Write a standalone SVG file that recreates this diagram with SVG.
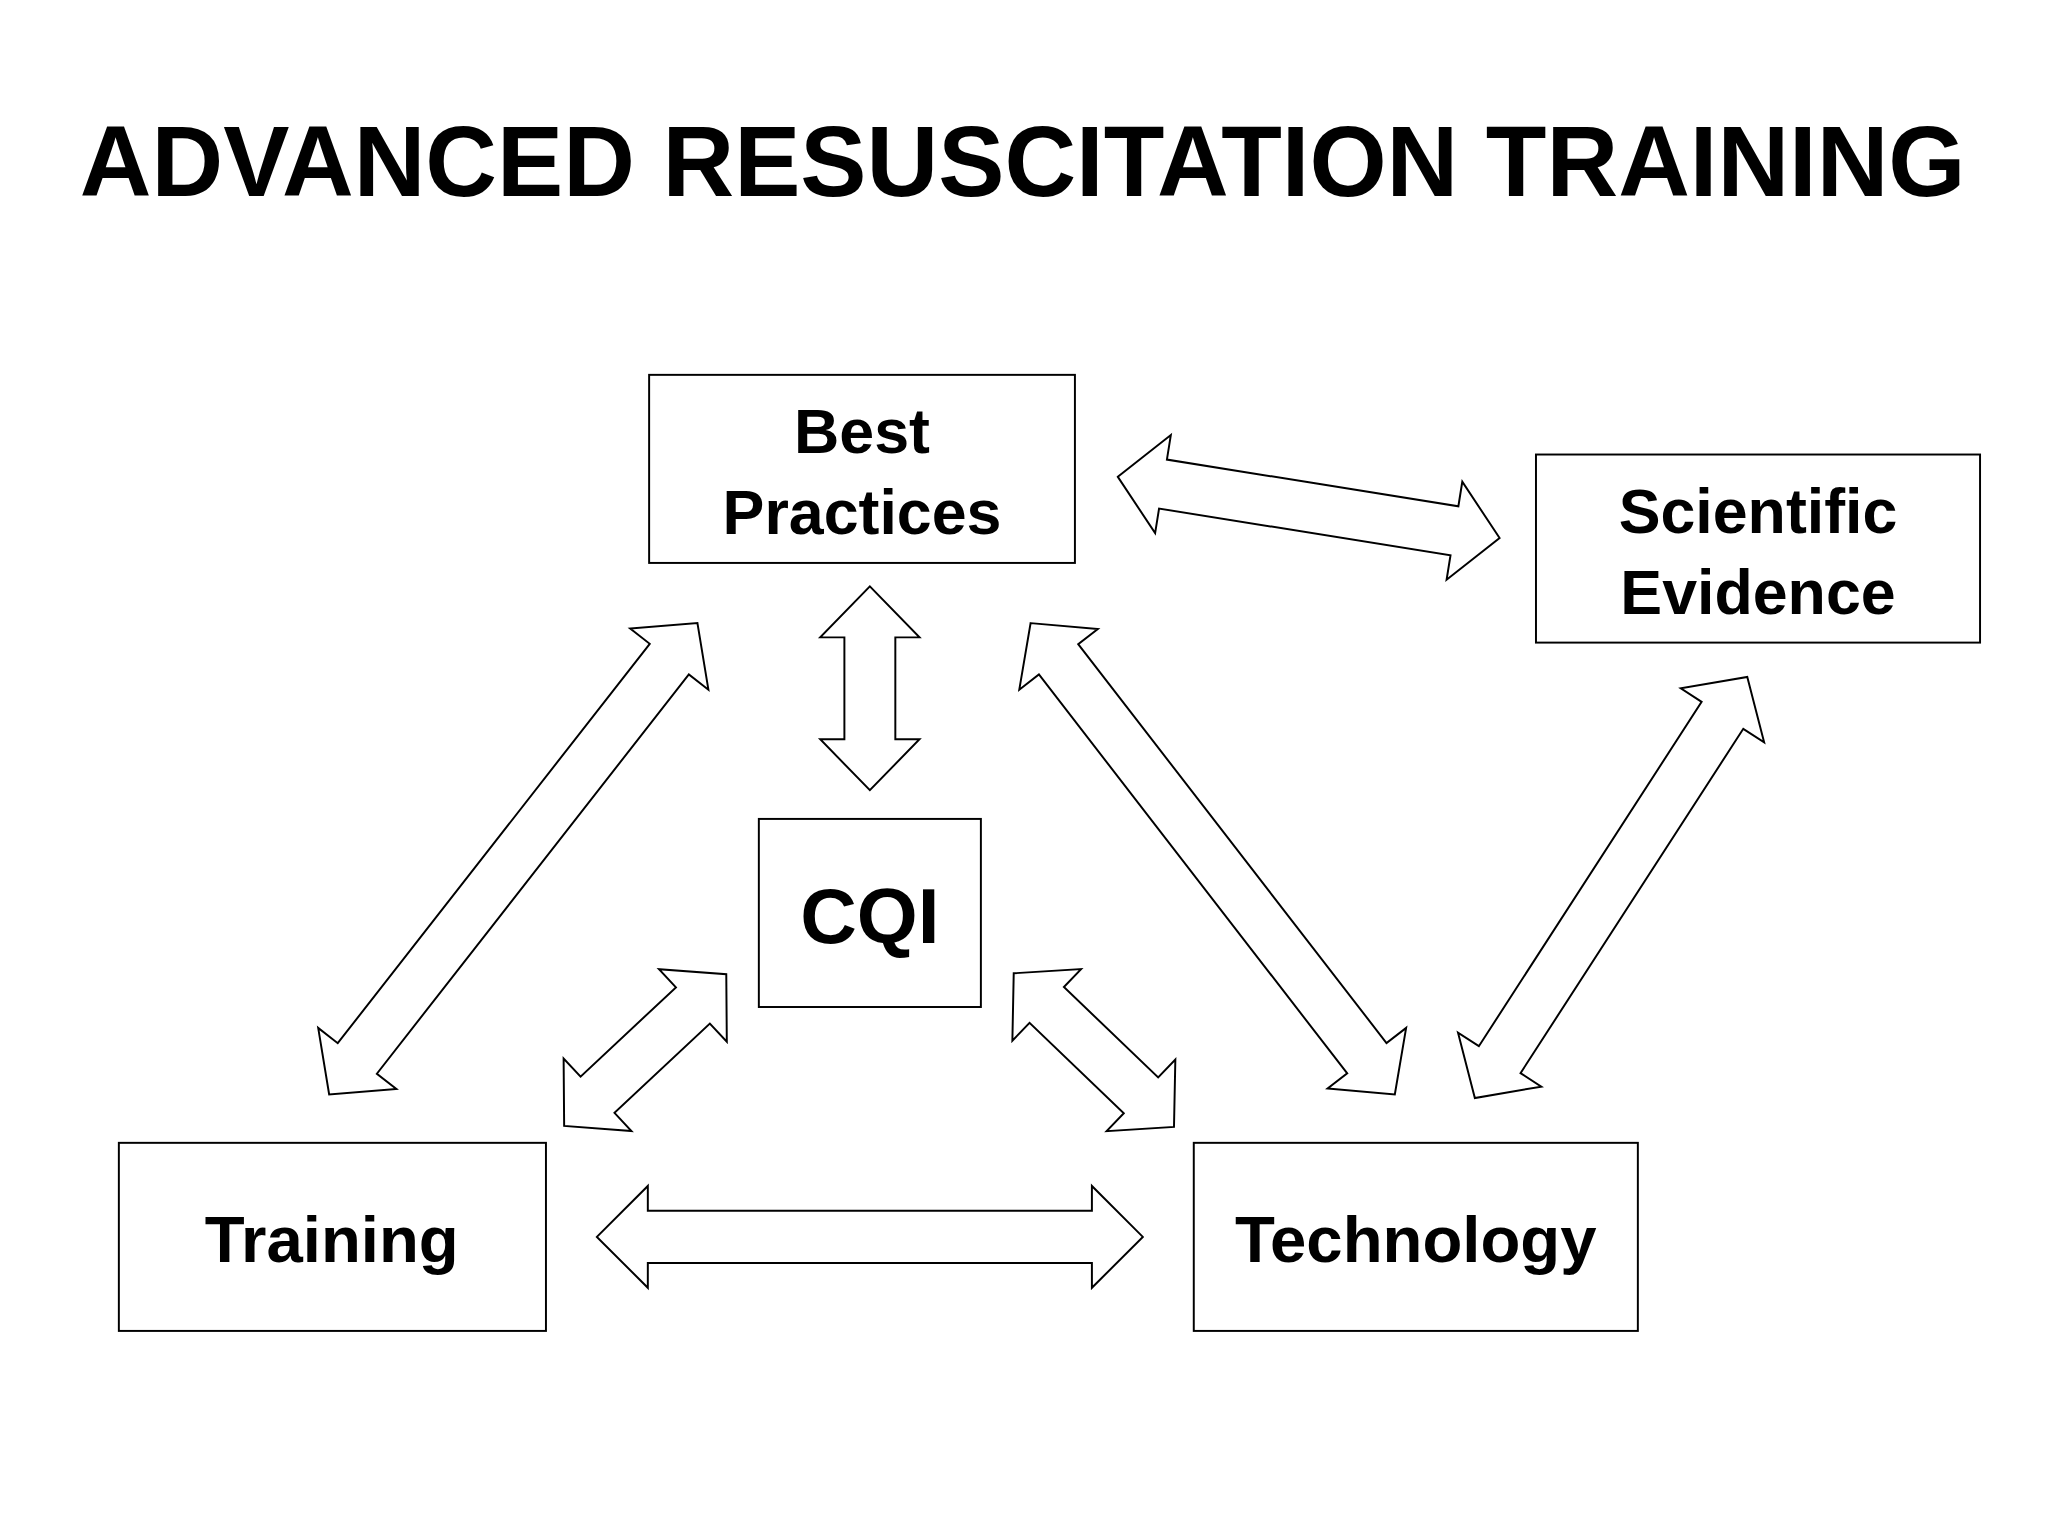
<svg xmlns="http://www.w3.org/2000/svg" width="2048" height="1536" viewBox="0 0 2048 1536">
<style>
.box{fill:#fff;stroke:#000;stroke-width:1.5}
.t{font-family:"Liberation Sans",Arial,sans-serif;font-weight:bold;fill:#000;text-anchor:middle}
.arr{fill:#fff;stroke:#000;stroke-width:1.5;stroke-linejoin:miter}
</style>
<rect width="2048" height="1536" fill="#fff"/>
<g transform="scale(1.3061)">
<text class="t" x="783" y="150" font-size="76">ADVANCED RESUSCITATION TRAINING</text>
<g id="connectors">
<polygon class="arr" transform="translate(1002,388.5) rotate(9.1)" points="-148,0 -113,-38 -113,-19 113,-19 113,-38 148,0 113,38 113,19 -113,19 -113,38"/>
<polygon class="arr" transform="translate(666,527) rotate(90)" points="-78,0 -39,-38 -39,-19.5 39,-19.5 39,-38 78,0 39,38 39,19.5 -39,19.5 -39,38"/>
<polygon class="arr" transform="translate(393,657.5) rotate(128)" points="-229,0 -194,-38 -194,-19 194,-19 194,-38 229,0 194,38 194,19 -194,19 -194,38"/>
<polygon class="arr" transform="translate(928.5,657.5) rotate(52.3)" points="-228,0 -193,-38 -193,-19 193,-19 193,-38 228,0 193,38 193,19 -193,19 -193,38"/>
<polygon class="arr" transform="translate(1233.5,679.5) rotate(122.9)" points="-192,0 -157,-38 -157,-19 157,-19 157,-38 192,0 157,38 157,19 -157,19 -157,38"/>
<polygon class="arr" transform="translate(494,804) rotate(136.9)" points="-85,0 -50,-38 -50,-19 50,-19 50,-38 85,0 50,38 50,19 -50,19 -50,38"/>
<polygon class="arr" transform="translate(837.5,804) rotate(43.8)" points="-85,0 -50,-38 -50,-19 50,-19 50,-38 85,0 50,38 50,19 -50,19 -50,38"/>
<polygon class="arr" transform="translate(666,947)" points="-209,0 -170,-39 -170,-20 170,-20 170,-39 209,0 170,39 170,20 -170,20 -170,39"/>
</g>
<g id="best"><rect class="box" x="497" y="287" width="326" height="144"/><text class="t" x="660" y="347" font-size="48">Best</text><text class="t" x="660" y="409" font-size="48">Practices</text></g>
<g id="sci"><rect class="box" x="1176" y="348" width="340" height="144"/><text class="t" x="1346" y="408" font-size="48">Scientific</text><text class="t" x="1346" y="470" font-size="48">Evidence</text></g>
<g id="cqi"><rect class="box" x="581" y="627" width="170" height="144"/><text class="t" x="666" y="722" font-size="60">CQI</text></g>
<g id="training"><rect class="box" x="91" y="875" width="327" height="144"/><text class="t" x="254" y="966" font-size="50">Training</text></g>
<g id="technology"><rect class="box" x="914" y="875" width="340" height="144"/><text class="t" x="1084" y="966" font-size="50">Technology</text></g>
</g>
</svg>
